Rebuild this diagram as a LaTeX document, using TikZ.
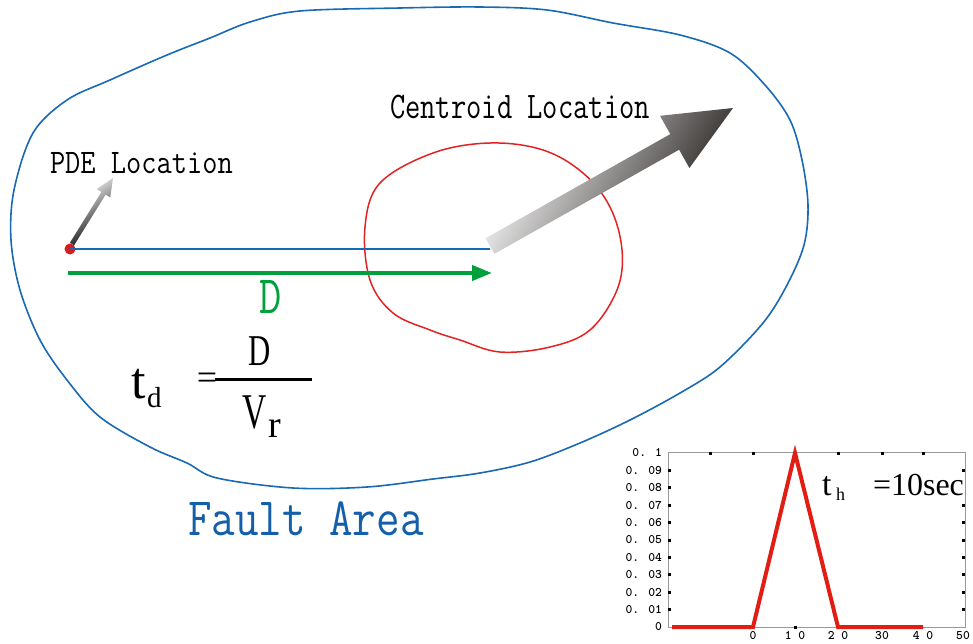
\documentclass[tikz,border=0pt]{standalone}
\usepackage{fontspec}
\newfontfamily\tms{Liberation Serif}
\usetikzlibrary{arrows.meta}
\definecolor{faultblue}{RGB}{25,105,180}
\definecolor{areablue}{RGB}{20,95,170}
\definecolor{blobred}{RGB}{225,35,35}
\definecolor{dotred}{RGB}{215,30,30}
\definecolor{dgreen}{RGB}{0,160,60}
\definecolor{plotred}{RGB}{225,30,20}
\definecolor{darkhead}{RGB}{30,26,24}
\begin{document}
\begin{tikzpicture}[x=1pt,y=-1pt,
  lbl/.style={inner sep=0pt, outer sep=0pt, transform shape},
  mono/.style={font=\ttfamily\fontsize{#1}{#1}\selectfont},
  serif/.style={font=\tms\fontsize{#1}{#1}\selectfont},
  tick/.style={fill=black, minimum size=3pt, inner sep=0pt},
  ticklbl/.style={lbl, font=\ttfamily\bfseries\fontsize{13}{13}\selectfont}]
\useasboundingbox (0,0) rectangle (973,643);

% fault area outline
\draw[faultblue, line width=1.6] plot[smooth cycle, tension=0.55] coordinates {
 (11,240) (14,190) (33,133) (67,100) (110,80) (167,55) (210,38) (250,22) (300,11)
 (400,8) (480,7) (547,10) (613,23) (680,35) (730,53) (765,85) (790,120)
 (802,160) (808,205) (804,245) (787,285) (763,323) (720,367) (680,393)
 (630,420) (580,443) (530,462) (480,473) (433,479) (367,487) (293,488)
 (217,478) (187,463) (150,447) (100,417) (67,380) (40,340) (20,290)};

% rupture area
\draw[blobred, line width=1.5] plot[smooth cycle, tension=0.6] coordinates {
 (490,143) (543,150) (583,173) (610,207) (622,250) (617,290) (590,330)
 (550,347) (500,352) (460,340) (430,330) (393,313) (370,280) (365,227)
 (380,183) (433,153)};

% PDE point and centroid
\node[circle, fill=dotred, minimum size=11pt, inner sep=0pt] (pde) at (70,249) {};
\coordinate (cent) at (490,249);
\draw[faultblue, line width=1.5] (pde.center) -- (cent);

% distance arrow
\coordinate (gs) at (68,273);
\coordinate (ge) at (492,273);
\draw[dgreen, line width=4, -{Triangle[length=20pt,width=15pt]}] (gs) -- (ge);
\node[lbl, anchor=base, xscale=0.8, mono=54, text=dgreen] (dlab) at (271,313) {D};

% small gradient arrow to PDE label
\shade[left color=white, right color=black, shading angle=31.8]
 (74.1,245.3) -- (105.6,194.6) -- (110.3,197.5) -- (113,178) -- (96.7,189.1)
 -- (101.4,192.0) -- (69.9,242.7) -- cycle;

% big gradient arrow to centroid label
\shade[left color=white, right color=darkhead, shading angle=60.6]
 (494.4,253.8) -- (679.1,149.7) -- (689.4,168.0) -- (733,108) -- (660,115.8)
 -- (670.3,134.1) -- (485.6,238.2) -- cycle;

% labels
\node[lbl, anchor=base west, xscale=0.79, mono=37.6] (centlab) at (390,118) {Centroid Location};
\node[lbl, anchor=base west, xscale=0.86, mono=34.4] (pdelab) at (50,173) {PDE Location};
\node[lbl, anchor=base west, xscale=0.847, mono=54, text=areablue] (area) at (188,535) {Fault Area};

% formula t_d = D / V_r
\node[lbl, anchor=base west, serif=52] (td) at (131,398) {t};
\node[lbl, anchor=base west, serif=29] (tdsub) at (147,407) {d};
\node[lbl, anchor=base, serif=36] (eq) at (207,389) {=};
\draw[black, line width=3] (215,379) -- (312,379);
\node[lbl, anchor=base, xscale=0.7, serif=44] (num) at (260,365) {D};
\node[lbl, anchor=base, xscale=0.67, serif=50] (den) at (255,428) {V};
\node[lbl, anchor=base west, serif=38] (dsub) at (268,437) {r};

% inset plot
\draw[gray!80, line width=0.8] (668,452) rectangle (965,627);
\foreach \xx in {710,753,838,882,923} \node[tick] at (\xx,453) {};
\foreach \xx in {710,795,882} \node[tick] at (\xx,627) {};
\foreach \i in {1,...,9} \node[tick] at (669,{627-17.4*\i}) {};
\foreach \i in {1,...,7,9} \node[tick] at (963,{627-17.4*\i}) {};
\draw[plotred, line width=4, line join=miter] (672,627) -- (753,627) -- (795,453) -- (838,627) -- (923,627);
\node[ticklbl, anchor=east] at (662,453) {0. 1};
\foreach \i in {9,8,...,1} \node[ticklbl, anchor=east] at (662,{627-17.4*\i}) {0. 0\i};
\node[ticklbl, anchor=east] at (662,627) {0};
\node[ticklbl] at (753,636) {0};
\node[ticklbl] at (795,636) {1 0};
\node[ticklbl] at (838,636) {2 0};
\node[ticklbl] at (882,636) {30};
\node[ticklbl] at (923,636) {4 0};
\node[ticklbl] at (963,636) {50};
\node[lbl, anchor=base west, serif=34] (th) at (822,495) {t};
\node[lbl, anchor=base west, serif=18] (thsub) at (836,500) {h};
\node[lbl, anchor=base west, serif=32] (thval) at (873,495) {=10sec};
\end{tikzpicture}
\end{document}
